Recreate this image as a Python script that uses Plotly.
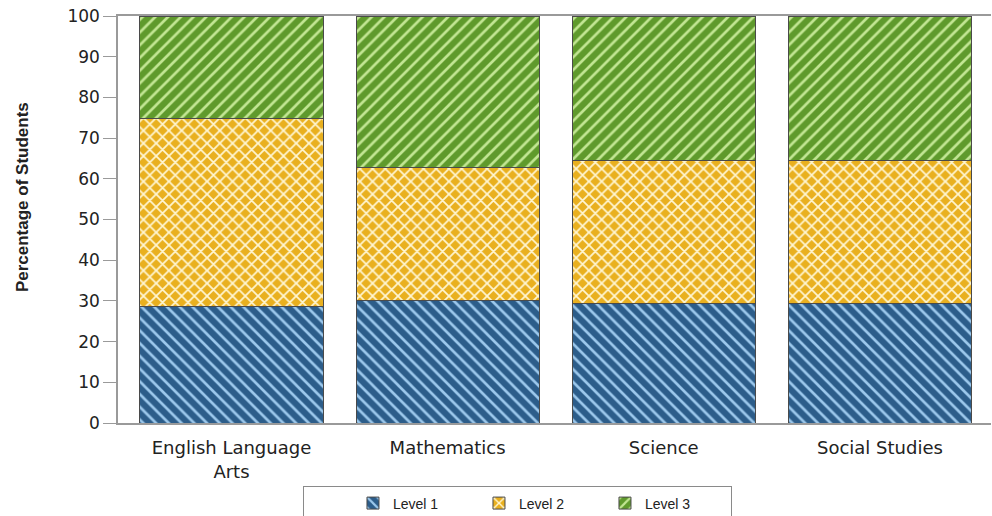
import plotly.graph_objects as go

subjects = ["English Language<br>Arts", "Mathematics", "Science", "Social Studies"]
level1 = [28.6, 30.0, 29.4, 29.3]
level2 = [46.2, 32.7, 35.0, 35.1]
level3 = [25.2, 37.3, 35.6, 35.6]
series_names = ["Level 1", "Level 2", "Level 3"]
y_ticks = [0, 10, 20, 30, 40, 50, 60, 70, 80, 90, 100]

styles = [
    dict(bg="#2C5D8A", fg="#9CC8EC", shape="\\", size=9, solidity=0.3),
    dict(bg="#E9B01F", fg="#FFF6D2", shape="x", size=9, solidity=0.35),
    dict(bg="#5F9A2C", fg="#C2E693", shape="/", size=9, solidity=0.3),
]

fig = go.Figure()
for name, vals, st in zip(series_names, [level1, level2, level3], styles):
    fig.add_trace(go.Bar(
        x=subjects, y=vals, name=name,
        marker=dict(
            color=st["bg"],
            line=dict(color="#4a4a4a", width=1),
            pattern=dict(shape=st["shape"], fgcolor=st["fg"], bgcolor=st["bg"],
                         size=st["size"], solidity=st["solidity"], fillmode="replace"),
        ),
    ))

fig.update_layout(
    barmode="stack",
    bargap=0.153,
    width=992, height=516,
    margin=dict(l=118, r=1, t=16, b=93, autoexpand=False),
    paper_bgcolor="white", plot_bgcolor="white",
    font=dict(family="DejaVu Sans", size=16, color="#222222"),
    showlegend=True,
    legend=dict(
        orientation="h", x=0.212, xanchor="left", y=-0.156, yanchor="top",
        bordercolor="#8a8a8a", borderwidth=1,
        font=dict(family="Liberation Sans", size=14, color="#222222"),
        entrywidth=81, traceorder="normal",
        title=dict(text="\u00a0" * 10, font=dict(size=14)),
        tracegroupgap=0,
    ),
    annotations=[dict(
        text="<b>Percentage of Students</b>", textangle=-90,
        xref="paper", yref="paper", x=-0.11, y=0.555,
        xanchor="center", yanchor="middle", showarrow=False,
        font=dict(family="Liberation Sans", size=17, color="#222222"),
    )],
)
fig.update_xaxes(
    range=[-0.525, 3.514],
    showline=True, linecolor="#9a9a9a", linewidth=1.5, mirror=True,
    ticks="outside", ticklen=8, tickcolor="rgba(0,0,0,0)", showgrid=False,
    tickfont=dict(family="DejaVu Sans", size=18, color="#222222"),
)
fig.update_yaxes(
    range=[0, 100], tickvals=y_ticks, showgrid=False, zeroline=False,
    showline=True, linecolor="#9a9a9a", linewidth=1.5,
    ticks="outside", ticklen=13, tickcolor="#9a9a9a",
    tickfont=dict(family="DejaVu Sans", size=17, color="#222222"),
)

fig.write_html("out.html", post_script="document.body.style.margin='0';",
               config={"displayModeBar": False})
